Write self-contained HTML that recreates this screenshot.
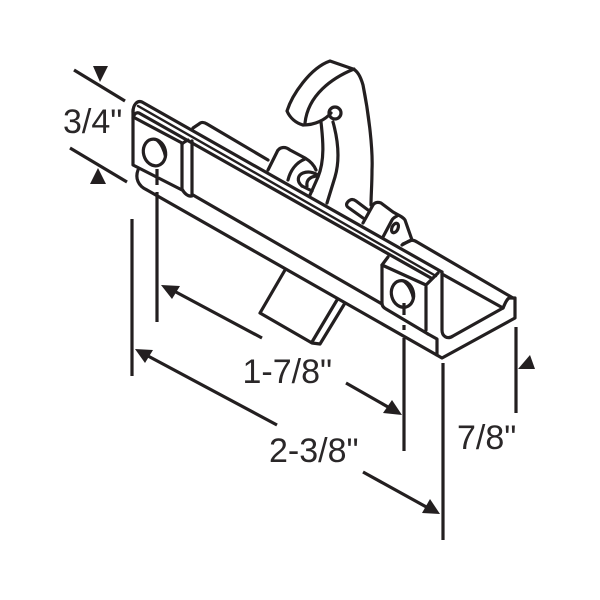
<!DOCTYPE html>
<html><head><meta charset="utf-8"><style>html,body{margin:0;padding:0;background:#fff;width:600px;height:600px;overflow:hidden}svg{display:block}text{font-family:"Liberation Sans",sans-serif;font-size:34px;fill:#2a2728}</style></head><body>
<svg width="600" height="600" viewBox="0 0 600 600" xmlns="http://www.w3.org/2000/svg">
<rect width="600" height="600" fill="#fff"/>
<g fill="none" stroke="#231f20" stroke-width="3.2" stroke-linejoin="round" stroke-linecap="round">
<!-- hook -->
<path d="M303 125C296 123 290 118 287 111C292 95 310 68 330 61L353 69C358 71 361 78 363 85C369 115 373 150 372 170C372 185 371 195 371 205"/>
<path d="M354 69C332 78 308 95 305 123"/>
<path d="M303 125C315 125 325 120 331 113"/>
<circle cx="335" cy="113" r="6"/>
<path d="M321 122C323 140 325 160 318 177L310 195"/>
<path d="M333 122C338 140 340 160 335 177L327 203"/>
<!-- left hinge -->
<path d="M268 170L277 152C279 147 285 146 290 150L305 158C310 161 314 165 316 170"/>
<path d="M288 180C290 172 295 163 305 159"/>
<path d="M302 186C296 181 298 175 303 173C308 171 313 172 318 175"/>
<path d="M307 186C306 180 310 177 316 176"/>
<path d="M302 186L312 191"/>
<!-- right hinge -->
<path d="M368 210L356 201C352 198 349 200 347 203C346 205 347 207 349 208L363 218"/>
<path d="M363 223L373 205C375 202 378 202 381 203L393 212C400 216 403 217 405 220L412 240L403 244"/>
<path d="M383 237L392 220C393 218 395 217 397 216"/>
<ellipse cx="395" cy="228" rx="3" ry="5" transform="rotate(25 395 228)"/>
<!-- bar behind strip -->
<path d="M193 128L199 124C201 122 204 122 207 124L268 160"/>
<path d="M402 245L409 241C411 240 414 240 417 242L513 298"/>
<!-- strip -->
<path d="M133 112C133 105 137 100 142 102L442 272"/>
<path d="M138 106L436 276" stroke-width="2.4"/>
<path d="M133 118C134 114 136 112 139 113L431 278"/>
<!-- left plate -->
<path d="M133 110V165L182 190"/>
<path d="M135 118L182 143"/>
<path d="M182 143V189C184 193 188 197 192 196V141"/>
<path d="M182 144C184 142 186 141 188 140"/>
<ellipse cx="154.500" cy="152.500" rx="11" ry="13.500" transform="rotate(-15 154.500 152.500)"/>
<path d="M156 140C161 144 164 151 165 157" stroke-width="2"/>
<!-- right plate -->
<path d="M438 273L426 285L382 265V303C382 306 384 308 386 309L428 334"/>
<path d="M388 257L382 265"/>
<path d="M426 287V330"/>
<ellipse cx="402.500" cy="294" rx="11" ry="13.500" transform="rotate(-15 402.500 294)"/>
<path d="M404 282C409 286 412 293 413 299" stroke-width="2"/>
<!-- channel -->
<path d="M138 170C135 178 138 186 147 190L442 358L515 318V298H509C506 300 505 304 503 308"/>
<path d="M193 195L382 304"/>
<path d="M428 334L437 339V355"/>
<path d="M442 272V330C442 336 447 340 453 336L503 308L442 274"/>
<!-- tab -->
<path d="M285 270L260 313L312 343L320 344L345 303"/>
<path d="M337 300L312 342"/>
</g>
<g fill="none" stroke="#231f20" stroke-width="3.2" stroke-linecap="butt">
<path d="M74 70L125 101"/>
<path d="M70 148L127 182"/>
<path d="M157 169V176M157 178V185M157 192V322"/>
<path d="M132 219V376"/>
<path d="M404 303V315M404 325V330M404 338V451"/>
<path d="M443 363V540"/>
<path d="M516 327V413"/>
<path d="M174 291L262 338"/>
<path d="M148 356L277 425"/>
<path d="M346 383L395 411"/>
<path d="M363 472L430 509"/>
</g>
<g fill="#231f20">
<path d="M93 66H108L100 82Z"/>
<path d="M90 184H106L98 168Z"/>
<path d="M161 285L180 286L172 299Z"/>
<path d="M135 349L153 350L145 363Z"/>
<path d="M402 415L392 400L383 413Z"/>
<path d="M440 514L430 499L422 513Z"/>
<path d="M518 369H535L530 355Z"/>
</g>
<text x="63" y="133">3/4"</text>
<text x="242.5" y="383">1-7/8"</text>
<text x="269" y="462">2-3/8"</text>
<text x="457" y="449">7/8"</text>
</svg>
</body></html>
